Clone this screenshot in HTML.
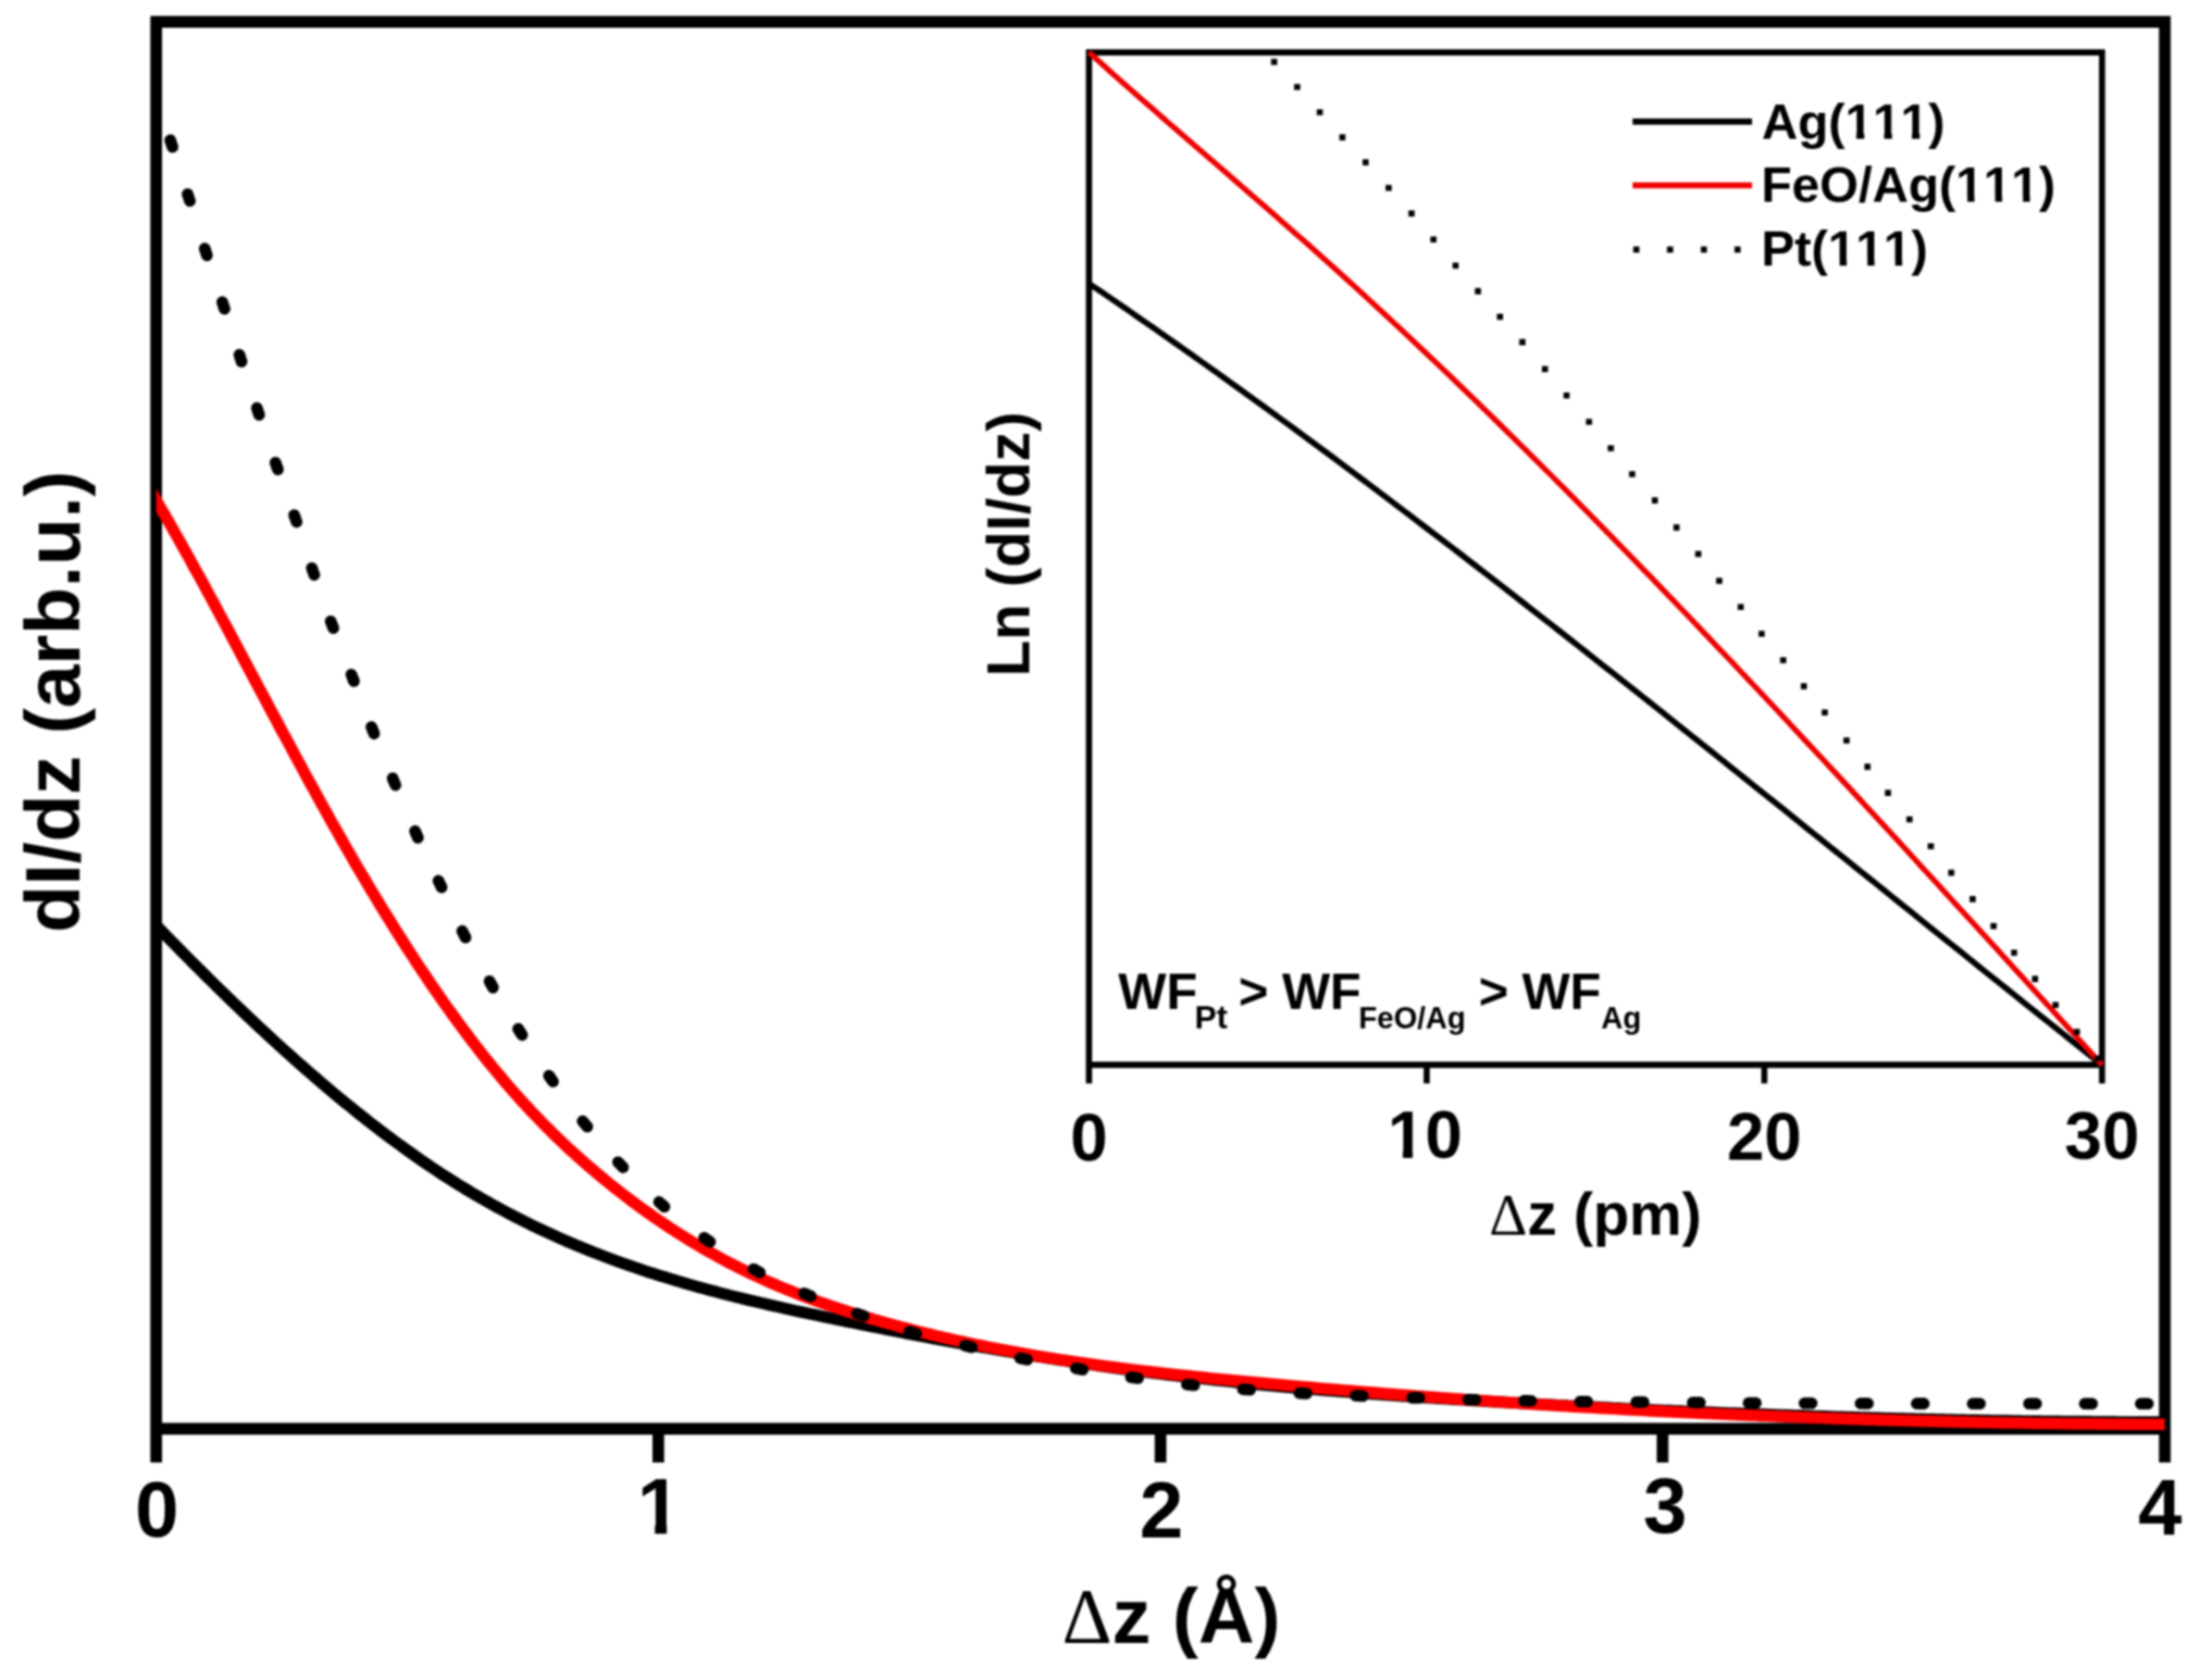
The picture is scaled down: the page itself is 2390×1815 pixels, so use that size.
<!DOCTYPE html>
<html lang="en">
<head>
<meta charset="utf-8">
<title>dI/dz vs Δz</title>
<style>
html,body{margin:0;padding:0;background:#fff;}
body{width:2390px;height:1815px;overflow:hidden;}
svg text{white-space:pre;font-kerning:none;}
</style>
</head>
<body>
<svg width="2390" height="1815" viewBox="0 0 2390 1815" style="display:block;filter:blur(1.1px)">
<rect width="2390" height="1815" fill="#fff"/>
<g stroke="#000" stroke-width="12.6" fill="none" stroke-linecap="butt">
<path d="M168.8,1580.0 V23.6 H2339.0 V1580.0" stroke-linejoin="miter"/>
<path d="M168.8,1543.6 H2339.0"/>
<path d="M711.3,1543.6 V1580.0"/>
<path d="M1253.9,1543.6 V1580.0"/>
<path d="M1796.4,1543.6 V1580.0"/>
</g>
<clipPath id="plotclip"><rect x="168.8" y="0" width="2171.0" height="1815"/></clipPath>
<g clip-path="url(#plotclip)">
<path d="M160.7,991.4 L166.2,997.1 L171.6,1002.7 L177.1,1008.4 L182.5,1014.0 L188.0,1019.5 L193.5,1025.1 L198.9,1030.6 L204.4,1036.1 L209.8,1041.6 L215.3,1047.0 L220.8,1052.5 L226.2,1057.9 L231.7,1063.2 L237.1,1068.6 L242.6,1073.9 L248.1,1079.2 L253.5,1084.5 L259.0,1089.7 L264.4,1094.9 L269.9,1100.1 L275.3,1105.2 L280.8,1110.3 L286.3,1115.4 L291.7,1120.4 L297.2,1125.5 L302.6,1130.4 L308.1,1135.4 L313.6,1140.3 L319.0,1145.2 L324.5,1150.0 L329.9,1154.8 L335.4,1159.5 L340.9,1164.3 L346.3,1169.0 L351.8,1173.6 L357.2,1178.2 L362.7,1182.8 L368.2,1187.3 L373.6,1191.8 L379.1,1196.2 L384.5,1200.6 L390.0,1205.0 L395.5,1209.3 L400.9,1213.6 L406.4,1217.8 L411.8,1222.0 L417.3,1226.1 L422.8,1230.2 L428.2,1234.2 L433.7,1238.2 L439.1,1242.1 L444.6,1246.0 L450.0,1249.9 L455.5,1253.7 L461.0,1257.4 L466.4,1261.1 L471.9,1264.8 L477.3,1268.4 L482.8,1271.9 L488.3,1275.4 L493.7,1278.8 L499.2,1282.2 L504.6,1285.5 L510.1,1288.8 L515.6,1292.0 L521.0,1295.2 L526.5,1298.3 L531.9,1301.4 L537.4,1304.4 L542.9,1307.3 L548.3,1310.2 L553.8,1313.1 L559.2,1315.9 L564.7,1318.7 L570.2,1321.4 L575.6,1324.1 L581.1,1326.7 L586.5,1329.3 L592.0,1331.8 L597.5,1334.3 L602.9,1336.8 L608.4,1339.2 L613.8,1341.6 L619.3,1343.9 L624.7,1346.2 L630.2,1348.4 L635.7,1350.6 L641.1,1352.8 L646.6,1354.9 L652.0,1357.0 L657.5,1359.1 L663.0,1361.1 L668.4,1363.1 L673.9,1365.1 L679.3,1367.0 L684.8,1368.9 L690.3,1370.7 L695.7,1372.6 L701.2,1374.4 L706.6,1376.1 L712.1,1377.9 L717.6,1379.6 L723.0,1381.3 L728.5,1382.9 L733.9,1384.5 L739.4,1386.1 L744.9,1387.7 L750.3,1389.3 L755.8,1390.8 L761.2,1392.3 L766.7,1393.8 L772.2,1395.2 L777.6,1396.7 L783.1,1398.1 L788.5,1399.5 L794.0,1400.8 L799.4,1402.2 L804.9,1403.5 L810.4,1404.9 L815.8,1406.2 L821.3,1407.4 L826.7,1408.7 L832.2,1410.0 L837.7,1411.2 L843.1,1412.4 L848.6,1413.7 L854.0,1414.9 L859.5,1416.1 L865.0,1417.2 L870.4,1418.4 L875.9,1419.6 L881.3,1420.7 L886.8,1421.9 L892.3,1423.0 L897.7,1424.2 L903.2,1425.3 L908.6,1426.4 L914.1,1427.5 L919.6,1428.6 L925.0,1429.7 L930.5,1430.8 L935.9,1431.9 L941.4,1433.0 L946.9,1434.1 L952.3,1435.2 L957.8,1436.3 L963.2,1437.3 L968.7,1438.4 L974.2,1439.4 L979.6,1440.5 L985.1,1441.5 L990.5,1442.6 L996.0,1443.6 L1001.4,1444.6 L1006.9,1445.7 L1012.4,1446.7 L1017.8,1447.7 L1023.3,1448.7 L1028.7,1449.7 L1034.2,1450.7 L1039.7,1451.6 L1045.1,1452.6 L1050.6,1453.6 L1056.0,1454.5 L1061.5,1455.5 L1067.0,1456.4 L1072.4,1457.4 L1077.9,1458.3 L1083.3,1459.3 L1088.8,1460.2 L1094.3,1461.1 L1099.7,1462.0 L1105.2,1462.9 L1110.6,1463.8 L1116.1,1464.7 L1121.6,1465.5 L1127.0,1466.4 L1132.5,1467.3 L1137.9,1468.1 L1143.4,1469.0 L1148.9,1469.8 L1154.3,1470.6 L1159.8,1471.4 L1165.2,1472.2 L1170.7,1473.0 L1176.1,1473.8 L1181.6,1474.6 L1187.1,1475.4 L1192.5,1476.2 L1198.0,1476.9 L1203.4,1477.7 L1208.9,1478.4 L1214.4,1479.2 L1219.8,1479.9 L1225.3,1480.6 L1230.7,1481.3 L1236.2,1482.0 L1241.7,1482.7 L1247.1,1483.4 L1252.6,1484.1 L1258.0,1484.7 L1263.5,1485.4 L1269.0,1486.0 L1274.4,1486.7 L1279.9,1487.3 L1285.3,1487.9 L1290.8,1488.5 L1296.3,1489.1 L1301.7,1489.8 L1307.2,1490.3 L1312.6,1490.9 L1318.1,1491.5 L1323.6,1492.1 L1329.0,1492.6 L1334.5,1493.2 L1339.9,1493.7 L1345.4,1494.3 L1350.8,1494.8 L1356.3,1495.4 L1361.8,1495.9 L1367.2,1496.4 L1372.7,1496.9 L1378.1,1497.4 L1383.6,1497.9 L1389.1,1498.4 L1394.5,1498.9 L1400.0,1499.4 L1405.4,1499.8 L1410.9,1500.3 L1416.4,1500.8 L1421.8,1501.2 L1427.3,1501.7 L1432.7,1502.1 L1438.2,1502.5 L1443.7,1503.0 L1449.1,1503.4 L1454.6,1503.8 L1460.0,1504.2 L1465.5,1504.7 L1471.0,1505.1 L1476.4,1505.5 L1481.9,1505.9 L1487.3,1506.3 L1492.8,1506.6 L1498.3,1507.0 L1503.7,1507.4 L1509.2,1507.8 L1514.6,1508.2 L1520.1,1508.5 L1525.5,1508.9 L1531.0,1509.3 L1536.5,1509.6 L1541.9,1510.0 L1547.4,1510.3 L1552.8,1510.7 L1558.3,1511.0 L1563.8,1511.3 L1569.2,1511.7 L1574.7,1512.0 L1580.1,1512.3 L1585.6,1512.7 L1591.1,1513.0 L1596.5,1513.3 L1602.0,1513.6 L1607.4,1513.9 L1612.9,1514.3 L1618.4,1514.6 L1623.8,1514.9 L1629.3,1515.2 L1634.7,1515.5 L1640.2,1515.8 L1645.7,1516.1 L1651.1,1516.4 L1656.6,1516.7 L1662.0,1517.0 L1667.5,1517.3 L1673.0,1517.6 L1678.4,1517.9 L1683.9,1518.2 L1689.3,1518.4 L1694.8,1518.7 L1700.3,1519.0 L1705.7,1519.3 L1711.2,1519.6 L1716.6,1519.8 L1722.1,1520.1 L1727.5,1520.4 L1733.0,1520.6 L1738.5,1520.9 L1743.9,1521.2 L1749.4,1521.4 L1754.8,1521.7 L1760.3,1522.0 L1765.8,1522.2 L1771.2,1522.5 L1776.7,1522.7 L1782.1,1523.0 L1787.6,1523.2 L1793.1,1523.5 L1798.5,1523.7 L1804.0,1523.9 L1809.4,1524.2 L1814.9,1524.4 L1820.4,1524.7 L1825.8,1524.9 L1831.3,1525.1 L1836.7,1525.3 L1842.2,1525.6 L1847.7,1525.8 L1853.1,1526.0 L1858.6,1526.2 L1864.0,1526.5 L1869.5,1526.7 L1875.0,1526.9 L1880.4,1527.1 L1885.9,1527.3 L1891.3,1527.5 L1896.8,1527.7 L1902.2,1527.9 L1907.7,1528.1 L1913.2,1528.3 L1918.6,1528.5 L1924.1,1528.7 L1929.5,1528.9 L1935.0,1529.1 L1940.5,1529.3 L1945.9,1529.4 L1951.4,1529.6 L1956.8,1529.8 L1962.3,1530.0 L1967.8,1530.1 L1973.2,1530.3 L1978.7,1530.5 L1984.1,1530.7 L1989.6,1530.8 L1995.1,1531.0 L2000.5,1531.1 L2006.0,1531.3 L2011.4,1531.5 L2016.9,1531.6 L2022.4,1531.8 L2027.8,1531.9 L2033.3,1532.1 L2038.7,1532.2 L2044.2,1532.3 L2049.7,1532.5 L2055.1,1532.6 L2060.6,1532.8 L2066.0,1532.9 L2071.5,1533.0 L2076.9,1533.1 L2082.4,1533.3 L2087.9,1533.4 L2093.3,1533.5 L2098.8,1533.6 L2104.2,1533.7 L2109.7,1533.9 L2115.2,1534.0 L2120.6,1534.1 L2126.1,1534.2 L2131.5,1534.3 L2137.0,1534.4 L2142.5,1534.5 L2147.9,1534.6 L2153.4,1534.7 L2158.8,1534.8 L2164.3,1534.8 L2169.8,1534.9 L2175.2,1535.0 L2180.7,1535.1 L2186.1,1535.2 L2191.6,1535.2 L2197.1,1535.3 L2202.5,1535.4 L2208.0,1535.5 L2213.4,1535.5 L2218.9,1535.6 L2224.4,1535.6 L2229.8,1535.7 L2235.3,1535.8 L2240.7,1535.8 L2246.2,1535.9 L2251.6,1535.9 L2257.1,1535.9 L2262.6,1536.0 L2268.0,1536.0 L2273.5,1536.1 L2278.9,1536.1 L2284.4,1536.1 L2289.9,1536.2 L2295.3,1536.2 L2300.8,1536.2 L2306.2,1536.2 L2311.7,1536.2 L2317.2,1536.3 L2322.6,1536.3 L2328.1,1536.3 L2333.5,1536.3 L2339.0,1536.3" stroke="#000" stroke-width="12.6" fill="none"/>
<path d="M160.7,526.8 L166.2,536.0 L171.6,545.3 L177.1,554.7 L182.5,564.2 L188.0,573.8 L193.5,583.5 L198.9,593.2 L204.4,603.0 L209.8,612.9 L215.3,622.8 L220.8,632.8 L226.2,642.9 L231.7,653.0 L237.1,663.1 L242.6,673.3 L248.1,683.5 L253.5,693.7 L259.0,703.9 L264.4,714.2 L269.9,724.4 L275.3,734.7 L280.8,745.0 L286.3,755.2 L291.7,765.5 L297.2,775.7 L302.6,786.0 L308.1,796.1 L313.6,806.3 L319.0,816.4 L324.5,826.5 L329.9,836.6 L335.4,846.6 L340.9,856.5 L346.3,866.4 L351.8,876.3 L357.2,886.0 L362.7,895.7 L368.2,905.4 L373.6,914.9 L379.1,924.4 L384.5,933.8 L390.0,943.1 L395.5,952.3 L400.9,961.5 L406.4,970.5 L411.8,979.5 L417.3,988.4 L422.8,997.2 L428.2,1005.9 L433.7,1014.5 L439.1,1023.0 L444.6,1031.4 L450.0,1039.8 L455.5,1048.0 L461.0,1056.1 L466.4,1064.2 L471.9,1072.1 L477.3,1080.0 L482.8,1087.7 L488.3,1095.3 L493.7,1102.8 L499.2,1110.3 L504.6,1117.6 L510.1,1124.8 L515.6,1131.8 L521.0,1138.8 L526.5,1145.7 L531.9,1152.4 L537.4,1159.1 L542.9,1165.6 L548.3,1172.0 L553.8,1178.3 L559.2,1184.4 L564.7,1190.5 L570.2,1196.4 L575.6,1202.2 L581.1,1207.9 L586.5,1213.5 L592.0,1219.0 L597.5,1224.4 L602.9,1229.7 L608.4,1235.0 L613.8,1240.1 L619.3,1245.1 L624.7,1250.0 L630.2,1254.9 L635.7,1259.7 L641.1,1264.3 L646.6,1268.9 L652.0,1273.5 L657.5,1277.9 L663.0,1282.3 L668.4,1286.6 L673.9,1290.9 L679.3,1295.0 L684.8,1299.1 L690.3,1303.2 L695.7,1307.1 L701.2,1311.0 L706.6,1314.8 L712.1,1318.6 L717.6,1322.3 L723.0,1325.9 L728.5,1329.5 L733.9,1333.0 L739.4,1336.4 L744.9,1339.8 L750.3,1343.1 L755.8,1346.4 L761.2,1349.6 L766.7,1352.7 L772.2,1355.7 L777.6,1358.8 L783.1,1361.7 L788.5,1364.6 L794.0,1367.4 L799.4,1370.2 L804.9,1372.9 L810.4,1375.5 L815.8,1378.1 L821.3,1380.6 L826.7,1383.1 L832.2,1385.6 L837.7,1387.9 L843.1,1390.2 L848.6,1392.5 L854.0,1394.7 L859.5,1396.9 L865.0,1399.0 L870.4,1401.1 L875.9,1403.2 L881.3,1405.1 L886.8,1407.1 L892.3,1409.0 L897.7,1410.9 L903.2,1412.7 L908.6,1414.5 L914.1,1416.3 L919.6,1418.0 L925.0,1419.7 L930.5,1421.4 L935.9,1423.0 L941.4,1424.6 L946.9,1426.2 L952.3,1427.8 L957.8,1429.3 L963.2,1430.8 L968.7,1432.3 L974.2,1433.8 L979.6,1435.2 L985.1,1436.6 L990.5,1438.0 L996.0,1439.3 L1001.4,1440.7 L1006.9,1442.0 L1012.4,1443.3 L1017.8,1444.6 L1023.3,1445.8 L1028.7,1447.1 L1034.2,1448.3 L1039.7,1449.5 L1045.1,1450.6 L1050.6,1451.8 L1056.0,1452.9 L1061.5,1454.0 L1067.0,1455.1 L1072.4,1456.2 L1077.9,1457.3 L1083.3,1458.3 L1088.8,1459.3 L1094.3,1460.3 L1099.7,1461.3 L1105.2,1462.3 L1110.6,1463.2 L1116.1,1464.2 L1121.6,1465.1 L1127.0,1466.0 L1132.5,1466.9 L1137.9,1467.7 L1143.4,1468.6 L1148.9,1469.4 L1154.3,1470.3 L1159.8,1471.1 L1165.2,1471.9 L1170.7,1472.7 L1176.1,1473.4 L1181.6,1474.2 L1187.1,1475.0 L1192.5,1475.7 L1198.0,1476.4 L1203.4,1477.1 L1208.9,1477.8 L1214.4,1478.5 L1219.8,1479.2 L1225.3,1479.9 L1230.7,1480.5 L1236.2,1481.2 L1241.7,1481.8 L1247.1,1482.5 L1252.6,1483.1 L1258.0,1483.7 L1263.5,1484.3 L1269.0,1484.9 L1274.4,1485.5 L1279.9,1486.1 L1285.3,1486.6 L1290.8,1487.2 L1296.3,1487.8 L1301.7,1488.3 L1307.2,1488.9 L1312.6,1489.4 L1318.1,1489.9 L1323.6,1490.5 L1329.0,1491.0 L1334.5,1491.5 L1339.9,1492.0 L1345.4,1492.6 L1350.8,1493.1 L1356.3,1493.6 L1361.8,1494.1 L1367.2,1494.6 L1372.7,1495.1 L1378.1,1495.6 L1383.6,1496.1 L1389.1,1496.5 L1394.5,1497.0 L1400.0,1497.5 L1405.4,1498.0 L1410.9,1498.5 L1416.4,1498.9 L1421.8,1499.4 L1427.3,1499.9 L1432.7,1500.4 L1438.2,1500.8 L1443.7,1501.3 L1449.1,1501.7 L1454.6,1502.2 L1460.0,1502.6 L1465.5,1503.1 L1471.0,1503.5 L1476.4,1504.0 L1481.9,1504.4 L1487.3,1504.8 L1492.8,1505.3 L1498.3,1505.7 L1503.7,1506.1 L1509.2,1506.6 L1514.6,1507.0 L1520.1,1507.4 L1525.5,1507.8 L1531.0,1508.2 L1536.5,1508.6 L1541.9,1509.0 L1547.4,1509.4 L1552.8,1509.8 L1558.3,1510.2 L1563.8,1510.6 L1569.2,1511.0 L1574.7,1511.4 L1580.1,1511.8 L1585.6,1512.2 L1591.1,1512.6 L1596.5,1512.9 L1602.0,1513.3 L1607.4,1513.7 L1612.9,1514.1 L1618.4,1514.4 L1623.8,1514.8 L1629.3,1515.1 L1634.7,1515.5 L1640.2,1515.9 L1645.7,1516.2 L1651.1,1516.6 L1656.6,1516.9 L1662.0,1517.2 L1667.5,1517.6 L1673.0,1517.9 L1678.4,1518.3 L1683.9,1518.6 L1689.3,1518.9 L1694.8,1519.2 L1700.3,1519.6 L1705.7,1519.9 L1711.2,1520.2 L1716.6,1520.5 L1722.1,1520.8 L1727.5,1521.1 L1733.0,1521.4 L1738.5,1521.7 L1743.9,1522.0 L1749.4,1522.3 L1754.8,1522.6 L1760.3,1522.9 L1765.8,1523.2 L1771.2,1523.5 L1776.7,1523.8 L1782.1,1524.1 L1787.6,1524.4 L1793.1,1524.6 L1798.5,1524.9 L1804.0,1525.2 L1809.4,1525.4 L1814.9,1525.7 L1820.4,1526.0 L1825.8,1526.2 L1831.3,1526.5 L1836.7,1526.7 L1842.2,1527.0 L1847.7,1527.2 L1853.1,1527.5 L1858.6,1527.7 L1864.0,1528.0 L1869.5,1528.2 L1875.0,1528.4 L1880.4,1528.7 L1885.9,1528.9 L1891.3,1529.1 L1896.8,1529.3 L1902.2,1529.6 L1907.7,1529.8 L1913.2,1530.0 L1918.6,1530.2 L1924.1,1530.4 L1929.5,1530.6 L1935.0,1530.8 L1940.5,1531.0 L1945.9,1531.2 L1951.4,1531.4 L1956.8,1531.6 L1962.3,1531.8 L1967.8,1532.0 L1973.2,1532.2 L1978.7,1532.4 L1984.1,1532.6 L1989.6,1532.7 L1995.1,1532.9 L2000.5,1533.1 L2006.0,1533.3 L2011.4,1533.4 L2016.9,1533.6 L2022.4,1533.8 L2027.8,1533.9 L2033.3,1534.1 L2038.7,1534.2 L2044.2,1534.4 L2049.7,1534.5 L2055.1,1534.7 L2060.6,1534.8 L2066.0,1535.0 L2071.5,1535.1 L2076.9,1535.2 L2082.4,1535.4 L2087.9,1535.5 L2093.3,1535.6 L2098.8,1535.8 L2104.2,1535.9 L2109.7,1536.0 L2115.2,1536.1 L2120.6,1536.2 L2126.1,1536.4 L2131.5,1536.5 L2137.0,1536.6 L2142.5,1536.7 L2147.9,1536.8 L2153.4,1536.9 L2158.8,1537.0 L2164.3,1537.1 L2169.8,1537.2 L2175.2,1537.3 L2180.7,1537.3 L2186.1,1537.4 L2191.6,1537.5 L2197.1,1537.6 L2202.5,1537.7 L2208.0,1537.7 L2213.4,1537.8 L2218.9,1537.9 L2224.4,1538.0 L2229.8,1538.0 L2235.3,1538.1 L2240.7,1538.1 L2246.2,1538.2 L2251.6,1538.3 L2257.1,1538.3 L2262.6,1538.4 L2268.0,1538.4 L2273.5,1538.5 L2278.9,1538.5 L2284.4,1538.5 L2289.9,1538.6 L2295.3,1538.6 L2300.8,1538.6 L2306.2,1538.7 L2311.7,1538.7 L2317.2,1538.7 L2322.6,1538.8 L2328.1,1538.8 L2333.5,1538.8 L2339.0,1538.8" stroke="#ff0000" stroke-width="12.6" fill="none"/>
</g>
<path d="M184.0,151.4L186.4,158.8M202.7,209.7L205.1,217.1M221.2,268.5L223.6,275.9M240.2,326.3L242.6,333.7M258.6,383.3L261.0,390.7M277.6,440.8L280.0,448.2M297.6,499.8L300.2,507.2M317.9,556.5L320.5,563.9M336.9,613.7L339.5,621.1M357.4,671.2L360.2,678.6M379.6,728.7L382.4,735.9M401.4,785.4L404.2,792.6M424.3,840.9L427.3,848.1M448.4,897.9L451.6,905.1M473.7,951.6L477.1,958.6M499.4,1005.8L503.0,1012.8M528.9,1060.1L532.7,1066.9M559.9,1111.5L564.1,1118.1M593.1,1162.1L597.5,1168.5M629.5,1211.3L634.5,1217.3M667.8,1255.5L673.2,1261.1M712.1,1298.6L717.9,1303.8M760.8,1337.3L767.2,1341.7M814.2,1371.0L821.0,1374.8M868.9,1397.4L876.1,1400.4M925.8,1419.1L933.2,1421.7M982.6,1438.5L990.0,1440.7M1042.5,1453.7L1050.1,1455.5M1102.2,1467.3L1109.8,1468.9M1162.4,1478.3L1170.0,1479.7M1221.9,1488.0L1229.7,1489.0M1282.4,1495.7L1290.2,1496.5M1342.9,1500.9L1350.7,1501.5M1403.9,1505.1L1411.7,1505.5M1464.7,1507.8L1472.5,1508.2M1525.8,1510.1L1533.6,1510.3M1586.4,1512.0L1594.2,1512.2M1646.7,1513.3L1654.5,1513.5M1707.2,1514.3L1715.0,1514.3M1768.0,1514.8L1775.8,1514.8M1828.9,1515.3L1836.7,1515.3M1889.3,1515.7L1897.1,1515.7M1949.7,1516.0L1957.5,1516.0M2010.4,1516.3L2018.2,1516.3M2070.9,1516.4L2078.7,1516.4M2131.5,1516.5L2139.3,1516.5M2192.2,1516.5L2200.0,1516.5M2252.6,1516.5L2260.4,1516.5M2313.0,1516.5L2320.8,1516.5" stroke="#000" stroke-width="12.6" stroke-linecap="round" fill="none"/>
<g font-family="'Liberation Sans', Arial, Helvetica, sans-serif" font-weight="bold" font-size="85" text-anchor="middle" fill="#000">
<text x="169.6" y="1659.5">0</text>
<text x="712.1" y="1657.1">1</text>
<text x="1254.9" y="1660.6">2</text>
<text x="1799.1" y="1656.1">3</text>
<text x="2333.8" y="1657.5">4</text>
</g>
<text x="1147.5" y="1774.5" font-family="'Liberation Sans', Arial, Helvetica, sans-serif" font-weight="bold" font-size="84" fill="#000"><tspan font-family="'Liberation Serif', 'Times New Roman', serif" font-weight="normal" id="d1">Δ</tspan><tspan id="xl_z">z (Å)</tspan></text>
<text transform="translate(85.7,1007.7) rotate(-90)" font-family="'Liberation Sans', Arial, Helvetica, sans-serif" font-weight="bold" font-size="84" fill="#000" id="ylab">dI/dz (arb.u.)</text>
<g stroke="#000" stroke-width="6.6" fill="none">
<path d="M1176.6,1170.5 V56.6 H2271.2 V1170.5"/>
<path d="M1176.6,1150.4 H2271.2"/>
<path d="M1541.5,1150.4 V1170.5"/>
<path d="M1906.3,1150.4 V1170.5"/>
</g>
<path d="M1176.6,306.3 L1190.5,315.7 L1204.3,325.2 L1218.2,334.7 L1232.0,344.3 L1245.9,353.9 L1259.7,363.6 L1273.6,373.3 L1287.4,383.1 L1301.3,393.0 L1315.2,402.8 L1329.0,412.8 L1342.9,422.8 L1356.7,432.8 L1370.6,442.9 L1384.4,453.0 L1398.3,463.2 L1412.1,473.4 L1426.0,483.6 L1439.9,493.9 L1453.7,504.3 L1467.6,514.6 L1481.4,525.0 L1495.3,535.5 L1509.1,546.0 L1523.0,556.5 L1536.8,567.1 L1550.7,577.6 L1564.6,588.3 L1578.4,598.9 L1592.3,609.6 L1606.1,620.3 L1620.0,631.0 L1633.8,641.8 L1647.7,652.6 L1661.5,663.4 L1675.4,674.3 L1689.3,685.1 L1703.1,696.0 L1717.0,707.0 L1730.8,717.9 L1744.7,728.8 L1758.5,739.8 L1772.4,750.8 L1786.3,761.8 L1800.1,772.8 L1814.0,783.9 L1827.8,794.9 L1841.7,806.0 L1855.5,817.1 L1869.4,828.2 L1883.2,839.3 L1897.1,850.4 L1911.0,861.5 L1924.8,872.6 L1938.7,883.8 L1952.5,894.9 L1966.4,906.0 L1980.2,917.2 L1994.1,928.3 L2007.9,939.5 L2021.8,950.6 L2035.7,961.8 L2049.5,972.9 L2063.4,984.1 L2077.2,995.2 L2091.1,1006.4 L2104.9,1017.5 L2118.8,1028.6 L2132.6,1039.8 L2146.5,1050.9 L2160.4,1062.0 L2174.2,1073.1 L2188.1,1084.2 L2201.9,1095.2 L2215.8,1106.3 L2229.6,1117.3 L2243.5,1128.4 L2257.3,1139.4 L2271.2,1150.4" stroke="#000" stroke-width="6.4" fill="none"/>
<path d="M1176.6,56.6 L1190.5,69.1 L1204.3,81.4 L1218.2,93.7 L1232.0,105.9 L1245.9,118.1 L1259.7,130.2 L1273.6,142.2 L1287.4,154.3 L1301.3,166.3 L1315.2,178.3 L1329.0,190.3 L1342.9,202.4 L1356.7,214.4 L1370.6,226.5 L1384.4,238.7 L1398.3,250.9 L1412.1,263.1 L1426.0,275.5 L1439.9,287.9 L1453.7,300.5 L1467.6,313.1 L1481.4,325.9 L1495.3,338.7 L1509.1,351.6 L1523.0,364.6 L1536.8,377.7 L1550.7,390.9 L1564.6,404.2 L1578.4,417.5 L1592.3,430.9 L1606.1,444.4 L1620.0,458.0 L1633.8,471.6 L1647.7,485.4 L1661.5,499.1 L1675.4,513.0 L1689.3,526.9 L1703.1,540.9 L1717.0,555.0 L1730.8,569.1 L1744.7,583.3 L1758.5,597.5 L1772.4,611.8 L1786.3,626.2 L1800.1,640.6 L1814.0,655.0 L1827.8,669.5 L1841.7,684.1 L1855.5,698.7 L1869.4,713.3 L1883.2,728.0 L1897.1,742.7 L1911.0,757.5 L1924.8,772.3 L1938.7,787.2 L1952.5,802.1 L1966.4,817.0 L1980.2,831.9 L1994.1,846.9 L2007.9,861.9 L2021.8,877.0 L2035.7,892.0 L2049.5,907.1 L2063.4,922.2 L2077.2,937.4 L2091.1,952.5 L2104.9,967.7 L2118.8,982.9 L2132.6,998.1 L2146.5,1013.3 L2160.4,1028.5 L2174.2,1043.7 L2188.1,1058.9 L2201.9,1074.2 L2215.8,1089.4 L2229.6,1104.7 L2243.5,1119.9 L2257.3,1135.2 L2271.2,1150.4" stroke="#ee0000" stroke-width="6.0" fill="none"/>
<path d="M1373.4,66.9h6.6M1398.3,94.0h6.6M1422.7,121.2h6.6M1447.1,148.4h6.6M1472.2,175.4h6.6M1497.1,203.0h6.6M1521.8,230.6h6.6M1545.5,258.7h6.6M1569.4,287.0h6.6M1593.6,314.6h6.6M1617.4,342.2h6.6M1641.6,369.6h6.6M1666.0,398.7h6.6M1689.3,427.2h6.6M1713.6,455.7h6.6M1737.1,484.2h6.6M1760.2,512.2h6.6M1784.7,540.6h6.6M1808.1,569.9h6.6M1831.6,598.5h6.6M1854.3,627.5h6.6M1877.5,655.8h6.6M1900.1,684.8h6.6M1923.4,713.2h6.6M1945.7,741.4h6.6M1968.3,769.8h6.6M1991.8,800.0h6.6M2014.5,828.4h6.6M2036.6,856.6h6.6M2059.8,885.2h6.6M2082.9,914.3h6.6M2105.0,942.9h6.6M2128.1,971.4h6.6M2150.7,1000.5h6.6M2172.9,1029.3h6.6M2195.5,1057.6h6.6M2217.7,1085.7h6.6M2240.7,1114.8h6.6M2263.1,1143.5h6.6" stroke="#000" stroke-width="6.6" fill="none"/>
<path d="M1764,131.4 H1893" stroke="#000" stroke-width="6.6"/>
<path d="M1764,200.3 H1893" stroke="#ee0000" stroke-width="6.6"/>
<path d="M1764.7,269.6h6.6M1801.2,269.6h6.6M1837.7,269.6h6.6M1874.1,269.6h6.6" stroke="#000" stroke-width="6.6" fill="none"/>
<g font-family="'Liberation Sans', Arial, Helvetica, sans-serif" font-weight="bold" font-size="54" fill="#000">
<text x="1903.5" y="150.2" id="lg1">Ag(111)</text>
<text x="1903" y="218.2" id="lg2">FeO/Ag(111)</text>
<text x="1903" y="287.3" id="lg3">Pt(111)</text>
</g>
<g font-family="'Liberation Sans', Arial, Helvetica, sans-serif" font-weight="bold" font-size="72.5" text-anchor="middle" fill="#000">
<text x="1176.6" y="1253.6">0</text>
<text x="1539.7" y="1251.4">10</text>
<text x="1906.3" y="1252.8">20</text>
<text x="2271.2" y="1252.0">30</text>
</g>
<text x="1609" y="1333.5" font-family="'Liberation Sans', Arial, Helvetica, sans-serif" font-weight="bold" font-size="64" fill="#000"><tspan font-family="'Liberation Serif', 'Times New Roman', serif" font-weight="normal">Δ</tspan><tspan>z (pm)</tspan></text>
<text transform="translate(1112.4,731) rotate(-90)" font-family="'Liberation Sans', Arial, Helvetica, sans-serif" font-weight="bold" font-size="64.4" fill="#000" id="iylab">Ln (dI/dz)</text>
<g font-family="'Liberation Sans', Arial, Helvetica, sans-serif" font-weight="bold" fill="#000">
<text y="1090.4" font-size="55"><tspan x="1208.3">WF</tspan><tspan x="1338.3">&gt;</tspan><tspan x="1385.2">WF</tspan><tspan x="1597.7">&gt;</tspan><tspan x="1644.4">WF</tspan></text>
<text y="1110.5" font-size="32.5"><tspan x="1290.8" font-size="35.5">Pt</tspan><tspan x="1468">FeO/Ag</tspan><tspan x="1730">Ag</tspan></text>
</g>
<g fill="#fff"><rect x="692.5" y="1647.3" width="15.1" height="11.0"/><rect x="720.4" y="1647.3" width="14.1" height="11.0"/><rect x="1502.5" y="1242.3" width="13.2" height="10.0"/><rect x="1526.3" y="1242.3" width="13.2" height="10.0"/><rect x="1996.0" y="143.4" width="9.7" height="7.6"/><rect x="2014.3" y="143.4" width="8.7" height="7.6"/><rect x="2026.0" y="143.4" width="9.7" height="7.6"/><rect x="2044.3" y="143.4" width="8.7" height="7.6"/><rect x="2056.0" y="143.4" width="9.7" height="7.6"/><rect x="2074.3" y="143.4" width="8.7" height="7.6"/><rect x="2115.0" y="211.4" width="10.7" height="7.6"/><rect x="2133.3" y="211.4" width="9.7" height="7.6"/><rect x="2145.0" y="211.4" width="10.7" height="7.6"/><rect x="2163.3" y="211.4" width="9.7" height="7.6"/><rect x="2175.0" y="211.4" width="10.7" height="7.6"/><rect x="2193.3" y="211.4" width="9.7" height="7.6"/><rect x="1977.0" y="280.4" width="10.7" height="7.6"/><rect x="1995.3" y="280.4" width="9.7" height="7.6"/><rect x="2007.0" y="280.4" width="10.7" height="7.6"/><rect x="2025.3" y="280.4" width="9.7" height="7.6"/><rect x="2037.0" y="280.4" width="10.7" height="7.6"/><rect x="2055.3" y="280.4" width="9.7" height="7.6"/></g>
</svg>
</body>
</html>
